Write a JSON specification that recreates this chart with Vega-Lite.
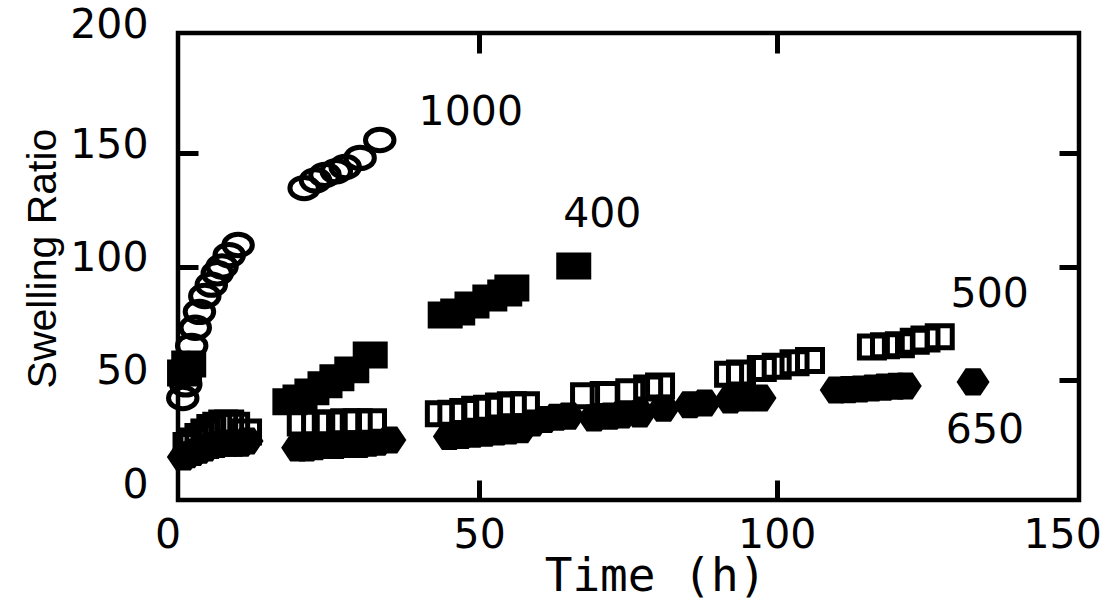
{
  "$schema": "https://vega.github.io/schema/vega-lite/v6.json",
  "width": 901,
  "height": 467,
  "autosize": {"type": "none"},
  "padding": {"left": 178, "top": 33, "right": 27, "bottom": 100},
  "background": "white",
  "config": {
    "view": {"stroke": "black", "strokeWidth": 4.5},
    "axis": {
      "domain": false,
      "grid": false,
      "tickWidth": 5,
      "tickSize": -20,
      "labelFont": "DejaVu Sans",
      "labelFontSize": 41,
      "labelColor": "black",
      "titleColor": "black",
      "titleFontWeight": "normal"
    }
  },
  "datasets": {
    "pts": [
      {"s": "1000", "t": 0.2, "r": 42}, {"s": "1000", "t": 0.7, "r": 48}, {"s": "1000", "t": 1.2, "r": 57},
      {"s": "1000", "t": 1.7, "r": 65}, {"s": "1000", "t": 2.3, "r": 73}, {"s": "1000", "t": 3, "r": 80},
      {"s": "1000", "t": 3.9, "r": 87}, {"s": "1000", "t": 5, "r": 92}, {"s": "1000", "t": 6, "r": 97},
      {"s": "1000", "t": 6.8, "r": 100}, {"s": "1000", "t": 8, "r": 105}, {"s": "1000", "t": 9.5, "r": 109.5},
      {"s": "1000", "t": 20.6, "r": 134.6}, {"s": "1000", "t": 22.5, "r": 138}, {"s": "1000", "t": 24.1, "r": 140.4},
      {"s": "1000", "t": 26, "r": 142}, {"s": "1000", "t": 27.5, "r": 143.9},
      {"s": "1000", "t": 30, "r": 147.9}, {"s": "1000", "t": 33.3, "r": 155.8},

      {"s": "400", "t": 0.5, "r": 53}, {"s": "400", "t": 1.2, "r": 57},
      {"s": "400", "t": 18.2, "r": 40.3}, {"s": "400", "t": 19.9, "r": 42}, {"s": "400", "t": 21.9, "r": 44.7},
      {"s": "400", "t": 24.1, "r": 47.8}, {"s": "400", "t": 26.1, "r": 50.9}, {"s": "400", "t": 28.6, "r": 54.4},
      {"s": "400", "t": 31.7, "r": 61}, {"s": "400", "t": 44.3, "r": 78.6}, {"s": "400", "t": 46.4, "r": 79.9},
      {"s": "400", "t": 48.8, "r": 83}, {"s": "400", "t": 51.8, "r": 86.1}, {"s": "400", "t": 54.3, "r": 88.3},
      {"s": "400", "t": 55.5, "r": 90.5}, {"s": "400", "t": 65.9, "r": 100.2},

      {"s": "500", "t": 1, "r": 21}, {"s": "500", "t": 2, "r": 23}, {"s": "500", "t": 3, "r": 25},
      {"s": "500", "t": 4, "r": 27}, {"s": "500", "t": 5, "r": 29}, {"s": "500", "t": 6, "r": 30},
      {"s": "500", "t": 7, "r": 31}, {"s": "500", "t": 8, "r": 31}, {"s": "500", "t": 9, "r": 30},
      {"s": "500", "t": 11, "r": 27},
      {"s": "500", "t": 20.2, "r": 31}, {"s": "500", "t": 22.6, "r": 31}, {"s": "500", "t": 24.9, "r": 31},
      {"s": "500", "t": 27.5, "r": 31.5}, {"s": "500", "t": 29.6, "r": 31.5}, {"s": "500", "t": 32, "r": 31.5},
      {"s": "500", "t": 43.4, "r": 35}, {"s": "500", "t": 45.5, "r": 35.3}, {"s": "500", "t": 47.5, "r": 36},
      {"s": "500", "t": 49.5, "r": 37}, {"s": "500", "t": 51.5, "r": 37.5}, {"s": "500", "t": 53.5, "r": 38.5},
      {"s": "500", "t": 55.5, "r": 39}, {"s": "500", "t": 57.7, "r": 39},
      {"s": "500", "t": 67.8, "r": 43}, {"s": "500", "t": 71.1, "r": 43.5}, {"s": "500", "t": 75.4, "r": 44.7},
      {"s": "500", "t": 78.4, "r": 46.4}, {"s": "500", "t": 80.4, "r": 47.3},
      {"s": "500", "t": 92, "r": 52.5}, {"s": "500", "t": 94, "r": 53}, {"s": "500", "t": 97.5, "r": 55},
      {"s": "500", "t": 100, "r": 56}, {"s": "500", "t": 103, "r": 57.5}, {"s": "500", "t": 105.6, "r": 58.5},
      {"s": "500", "t": 116, "r": 64.5}, {"s": "500", "t": 118.2, "r": 65}, {"s": "500", "t": 120.7, "r": 65.5},
      {"s": "500", "t": 123.2, "r": 67}, {"s": "500", "t": 125, "r": 68}, {"s": "500", "t": 127.4, "r": 69},

      {"s": "650", "t": 0.3, "r": 16}, {"s": "650", "t": 1, "r": 17}, {"s": "650", "t": 2, "r": 18},
      {"s": "650", "t": 3, "r": 19}, {"s": "650", "t": 4, "r": 20}, {"s": "650", "t": 5, "r": 21},
      {"s": "650", "t": 6, "r": 21.5}, {"s": "650", "t": 7, "r": 22}, {"s": "650", "t": 8, "r": 22},
      {"s": "650", "t": 9, "r": 22}, {"s": "650", "t": 10, "r": 22}, {"s": "650", "t": 11, "r": 23},
      {"s": "650", "t": 19.5, "r": 20}, {"s": "650", "t": 21, "r": 20}, {"s": "650", "t": 22.5, "r": 20.5},
      {"s": "650", "t": 24, "r": 21}, {"s": "650", "t": 26, "r": 21}, {"s": "650", "t": 28, "r": 21.5},
      {"s": "650", "t": 30, "r": 21.5}, {"s": "650", "t": 31.5, "r": 22}, {"s": "650", "t": 33, "r": 22.5},
      {"s": "650", "t": 35, "r": 23.5},
      {"s": "650", "t": 45, "r": 25}, {"s": "650", "t": 47, "r": 25.5}, {"s": "650", "t": 49, "r": 26},
      {"s": "650", "t": 51, "r": 26.5}, {"s": "650", "t": 53, "r": 27}, {"s": "650", "t": 55, "r": 27.5},
      {"s": "650", "t": 57, "r": 28}, {"s": "650", "t": 59, "r": 31}, {"s": "650", "t": 61, "r": 32.5},
      {"s": "650", "t": 63, "r": 33.5}, {"s": "650", "t": 65, "r": 34},
      {"s": "650", "t": 69.3, "r": 33.2}, {"s": "650", "t": 72, "r": 34}, {"s": "650", "t": 74, "r": 34.5},
      {"s": "650", "t": 77, "r": 35}, {"s": "650", "t": 81, "r": 37.5},
      {"s": "650", "t": 85.4, "r": 39}, {"s": "650", "t": 87.9, "r": 39.8}, {"s": "650", "t": 92.2, "r": 41.1},
      {"s": "650", "t": 94.7, "r": 42}, {"s": "650", "t": 97.2, "r": 42},
      {"s": "650", "t": 110, "r": 45.5}, {"s": "650", "t": 112, "r": 45.7}, {"s": "650", "t": 114, "r": 46},
      {"s": "650", "t": 116, "r": 46.4}, {"s": "650", "t": 118, "r": 46.8}, {"s": "650", "t": 120, "r": 47.2},
      {"s": "650", "t": 121.6, "r": 47.3}, {"s": "650", "t": 133, "r": 49.1}
    ],
    "labels": [
      {"label": "1000", "t": 48.6, "r": 162.4},
      {"label": "400", "t": 70.7, "r": 117.4},
      {"label": "500", "t": 135.8, "r": 82.1},
      {"label": "650", "t": 135.0, "r": 22.1}
    ]
  },
  "resolve": {"axis": {"x": "independent", "y": "independent"}},
  "layer": [
    {
      "data": {"name": "pts"},
      "mark": {"type": "point", "opacity": 0},
      "encoding": {
        "x": {
          "field": "t", "type": "quantitative",
          "scale": {"domain": [-0.6, 150.8], "nice": false, "zero": false},
          "axis": {
            "orient": "bottom",
            "values": [0, 50, 100, 150],
            "tickColor": {"condition": {"test": "datum.value == 0 || datum.value == 150", "value": "transparent"}, "value": "black"},
            "labelPadding": 35,
            "labelFlush": 8,
            "labelFlushOffset": 27,
            "title": "Time (h)",
            "titleFont": "DejaVu Sans Mono",
            "titleFontSize": 46,
            "titleX": 477,
            "titleY": 90,
            "titleBaseline": "alphabetic",
            "titleAlign": "center"
          }
        },
        "y": {
          "field": "r", "type": "quantitative",
          "scale": {"domain": [-3, 203], "nice": false, "zero": false},
          "axis": {
            "orient": "left",
            "values": [0, 50, 100, 150, 200],
            "tickColor": {"condition": {"test": "datum.value == 0 || datum.value == 200", "value": "transparent"}, "value": "black"},
            "labelPadding": 50,
            "labelOffset": {"condition": {"test": "datum.value == 200", "value": -14}, "value": -8},
            "title": "Swelling Ratio",
            "titleFont": "Liberation Sans",
            "titleFontSize": 41,
            "titleAngle": -90,
            "titleX": -123,
            "titleY": 225,
            "titleBaseline": "alphabetic",
            "titleAlign": "center"
          }
        }
      }
    },
    {
      "data": {"name": "pts"},
      "mark": {"type": "point", "opacity": 0},
      "encoding": {
        "x": {
          "field": "t", "type": "quantitative",
          "scale": {"domain": [-0.6, 150.8], "nice": false, "zero": false},
          "axis": {"orient": "top", "values": [50, 100], "labels": false, "title": null, "tickColor": "black"}
        },
        "y": {
          "field": "r", "type": "quantitative",
          "scale": {"domain": [-3, 203], "nice": false, "zero": false},
          "axis": {"orient": "right", "values": [50, 100, 150], "labels": false, "title": null, "tickColor": "black"}
        }
      }
    },
    {
      "data": {"name": "pts"},
      "transform": [{"filter": "datum.s == '650'"}],
      "mark": {"type": "point", "filled": true, "color": "black", "opacity": 1,
               "shape": "M-1,0L-0.45,-0.82L0.45,-0.82L1,0L0.45,0.82L-0.45,0.82Z", "size": 1089},
      "encoding": {
        "x": {"field": "t", "type": "quantitative", "scale": {"domain": [-0.6, 150.8], "nice": false, "zero": false}, "axis": null},
        "y": {"field": "r", "type": "quantitative", "scale": {"domain": [-3, 203], "nice": false, "zero": false}, "axis": null}
      }
    },
    {
      "data": {"name": "pts"},
      "transform": [{"filter": "datum.s == '500'"}],
      "mark": {"type": "point", "filled": false, "color": "black", "opacity": 1, "strokeWidth": 5,
               "shape": "M-1,-0.88L1,-0.88L1,0.88L-1,0.88Z", "size": 625},
      "encoding": {
        "x": {"field": "t", "type": "quantitative", "scale": {"domain": [-0.6, 150.8], "nice": false, "zero": false}, "axis": null},
        "y": {"field": "r", "type": "quantitative", "scale": {"domain": [-3, 203], "nice": false, "zero": false}, "axis": null}
      }
    },
    {
      "data": {"name": "pts"},
      "transform": [{"filter": "datum.s == '400'"}],
      "mark": {"type": "point", "filled": true, "color": "black", "opacity": 1,
               "shape": "M-1,-0.77L1,-0.77L1,0.77L-1,0.77Z", "size": 1225},
      "encoding": {
        "x": {"field": "t", "type": "quantitative", "scale": {"domain": [-0.6, 150.8], "nice": false, "zero": false}, "axis": null},
        "y": {"field": "r", "type": "quantitative", "scale": {"domain": [-3, 203], "nice": false, "zero": false}, "axis": null}
      }
    },
    {
      "data": {"name": "pts"},
      "transform": [{"filter": "datum.s == '1000'"}],
      "mark": {"type": "point", "filled": false, "color": "black", "opacity": 1, "strokeWidth": 5,
               "shape": "M-1,0A1,0.75,0,1,1,1,0A1,0.75,0,1,1,-1,0Z", "size": 812},
      "encoding": {
        "x": {"field": "t", "type": "quantitative", "scale": {"domain": [-0.6, 150.8], "nice": false, "zero": false}, "axis": null},
        "y": {"field": "r", "type": "quantitative", "scale": {"domain": [-3, 203], "nice": false, "zero": false}, "axis": null}
      }
    },
    {
      "data": {"name": "labels"},
      "mark": {"type": "text", "font": "DejaVu Sans", "fontSize": 41, "color": "black", "align": "center", "baseline": "alphabetic"},
      "encoding": {
        "x": {"field": "t", "type": "quantitative", "scale": {"domain": [-0.6, 150.8], "nice": false, "zero": false}, "axis": null},
        "y": {"field": "r", "type": "quantitative", "scale": {"domain": [-3, 203], "nice": false, "zero": false}, "axis": null},
        "text": {"field": "label"}
      }
    }
  ]
}
